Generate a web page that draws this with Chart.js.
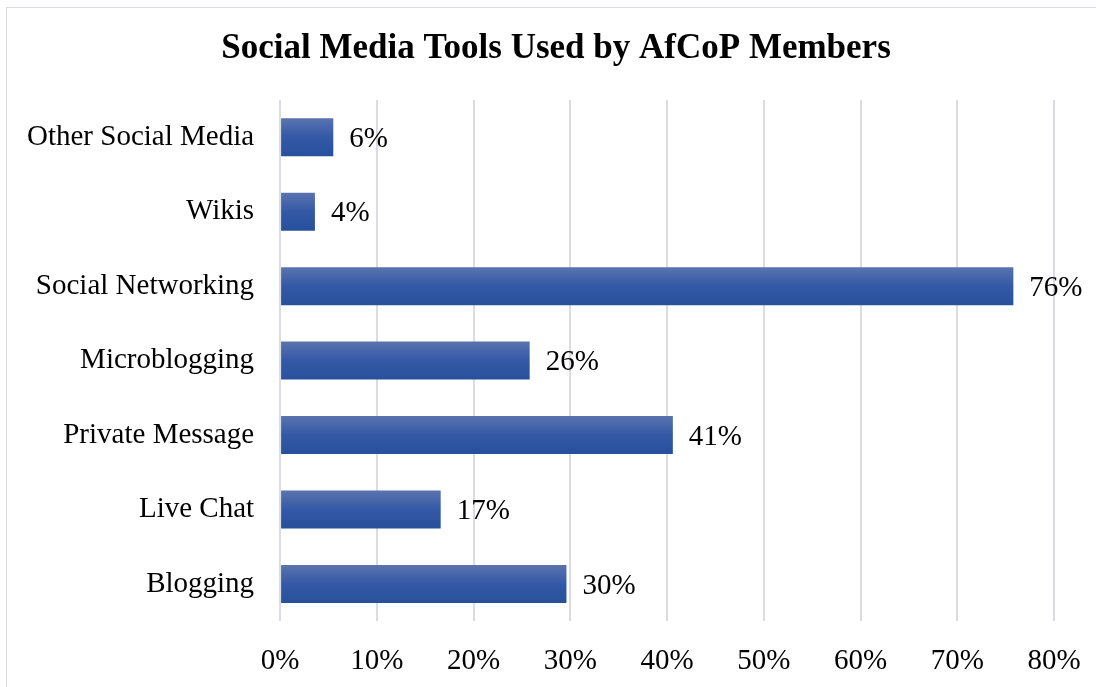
<!DOCTYPE html>
<html lang="en">

<head>
  <meta charset="UTF-8">
  <title>Social Media Tools Used by AfCoP Members</title>
  <script src="https://cdn.jsdelivr.net/npm/chart.js"></script>
  <style>
    html, body { margin: 0; padding: 0; background: #fff; overflow: hidden; }
    #frame {
      position: absolute; left: 6px; top: 7px; width: 1200px; height: 800px;
      border: 1px solid #d9dde1;
    }
    #wrap { position: absolute; left: 0; top: 0; width: 1096px; height: 687px; }
  </style>
</head>

<body>
  <div id="frame"></div>
  <div id="wrap"><canvas id="toolsChart" width="1096" height="687"></canvas></div>
  <script>

    var chartTitle = 'Social Media Tools Used by AfCoP Members';
    var categories = ['Other Social Media', 'Wikis', 'Social Networking', 'Microblogging',
      'Private Message', 'Live Chat', 'Blogging'];
    var usage = [5.5, 3.6, 75.8, 25.8, 40.6, 16.6, 29.6];
    var valueLabels = ['6%', '4%', '76%', '26%', '41%', '17%', '30%'];
    var xTicks = [0, 10, 20, 30, 40, 50, 60, 70, 80];

    var serif = '"Liberation Serif", "Times New Roman", serif';
    var BAR_PCT = 0.51;

    // vertical gradient per bar, lighter at the top
    function barFill(context) {
      var chart = context.chart;
      var y = chart.scales.y;
      if (!y || !chart.chartArea) return '#3358a6';
      var centre = y.getPixelForValue(context.dataIndex);
      var h = (y.height / categories.length) * BAR_PCT;
      var g = chart.ctx.createLinearGradient(0, centre - h / 2, 0, centre + h / 2);
      g.addColorStop(0, '#5a73af');
      g.addColorStop(0.5, '#3459a6');
      g.addColorStop(1, '#27509b');
      return g;
    }

    var barLabels = {
      id: 'barLabels',
      afterDatasetsDraw: function (chart) {
        var ctx = chart.ctx;
        ctx.save();
        ctx.font = '29px ' + serif;
        ctx.fillStyle = '#000';
        ctx.textBaseline = 'middle';
        ctx.textAlign = 'left';
        chart.getDatasetMeta(0).data.forEach(function (bar, i) {
          ctx.fillText(valueLabels[i], bar.x + 16, bar.y + 2);
        });
        ctx.restore();
      }
    };

    // title sits centred over the whole frame, not the canvas
    var frameTitle = {
      id: 'frameTitle',
      afterDraw: function (chart) {
        var ctx = chart.ctx;
        ctx.save();
        ctx.font = 'bold 35px ' + serif;
        ctx.fillStyle = '#000';
        ctx.textAlign = 'center';
        ctx.textBaseline = 'middle';
        ctx.fillText(chartTitle, 556, 49);
        ctx.restore();
      }
    };

    new Chart(document.getElementById('toolsChart'), {
      type: 'bar',
      data: {
        labels: categories,
        datasets: [{
          data: usage,
          backgroundColor: barFill,
          categoryPercentage: 1,
          barPercentage: BAR_PCT
        }]
      },
      options: {
        indexAxis: 'y',
        responsive: false,
        animation: false,
        layout: { padding: { left: 9, right: 42, top: 100, bottom: -15 } },
        plugins: {
          legend: { display: false },
          tooltip: { enabled: false },
          title: { display: false }
        },
        scales: {
          x: {
            min: 0,
            max: 80,
            afterBuildTicks: function (axis) {
              axis.ticks = xTicks.map(function (v) { return { value: v }; });
            },
            afterFit: function (axis) {
              axis.paddingRight = 0;
            },
            grid: { color: '#d9dde1', lineWidth: 2, drawTicks: false },
            border: { display: false },
            ticks: {
              color: '#000',
              padding: 23,
              font: { family: serif, size: 29 },
              callback: function (v) { return v + '%'; }
            }
          },
          y: {
            grid: { display: false },
            border: { display: false },
            ticks: {
              color: '#000',
              padding: 18,
              font: { family: serif, size: 29 }
            }
          }
        }
      },
      plugins: [barLabels, frameTitle]
    });
  </script>
</body>

</html>
